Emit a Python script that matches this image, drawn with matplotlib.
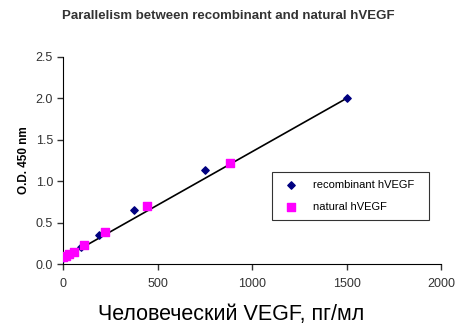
import numpy as np
import matplotlib
matplotlib.use("Agg")
import matplotlib.pyplot as plt

# recombinant hVEGF standard series (pg/ml, O.D.)
rec_x = [0, 11.7, 23.4, 46.9, 93.75, 187.5, 375, 750, 1500]
rec_y = [0.07, 0.09, 0.11, 0.14, 0.20, 0.35, 0.65, 1.14, 2.00]

# natural hVEGF dilutions
nat_x = [0, 13.8, 27.5, 55, 110, 220, 440, 880]
nat_y = [0.08, 0.10, 0.12, 0.15, 0.23, 0.39, 0.70, 1.22]

x_ticks = [0, 500, 1000, 1500, 2000]
y_ticks = [0.0, 0.5, 1.0, 1.5, 2.0, 2.5]

plt.rcParams['font.family'] = ['Liberation Sans', 'DejaVu Sans']

fig = plt.figure(figsize=(4.56, 3.24), dpi=100)
ax = fig.add_axes([0.139, 0.185, 0.829, 0.64])

# straight line from the lowest to the highest standard
ax.plot([rec_x[0], rec_x[-1]], [rec_y[0], rec_y[-1]], color='black', lw=1.2, zorder=2)

ax.scatter(rec_x, rec_y, marker='D', s=14, color='#000080', label='recombinant hVEGF', zorder=3)
ax.scatter(nat_x, nat_y, marker='s', s=30, color='#ff00ff', label='natural hVEGF', zorder=3)

ax.set_xlim(0, 2000)
ax.set_ylim(0, 2.5)
ax.set_xticks(x_ticks)
ax.set_yticks(y_ticks)
ax.set_yticklabels([f'{v:.1f}' for v in y_ticks])
ax.spines['top'].set_visible(False)
ax.spines['right'].set_visible(False)
ax.tick_params(direction='out', length=4, width=1, labelsize=9, colors='#333333')
ax.tick_params(axis='x', pad=6)

ax.set_ylabel('O.D. 450 nm', fontsize=8.5, fontweight='bold', labelpad=4)
ax.set_xlabel('Человеческий VEGF, пг/мл', fontsize=15.5)
ax.xaxis.set_label_coords(0.443, -0.27, transform=ax.transAxes)
ax.xaxis.label.set_verticalalignment('baseline')
fig.suptitle('Parallelism between recombinant and natural hVEGF',
             fontsize=9.5, fontweight='bold', color='#333333', x=0.5, y=0.97)

leg = ax.legend(loc='lower left', bbox_to_anchor=(0.552, 0.212, 0.414, 0.222),
                mode='expand', borderaxespad=0, fontsize=8, frameon=True, fancybox=False,
                labelspacing=1.1, handletextpad=1.0, borderpad=0.7, scatterpoints=1)
leg.get_frame().set_edgecolor('black')
leg.get_frame().set_linewidth(0.8)

fig.savefig('out.png', dpi=100)
